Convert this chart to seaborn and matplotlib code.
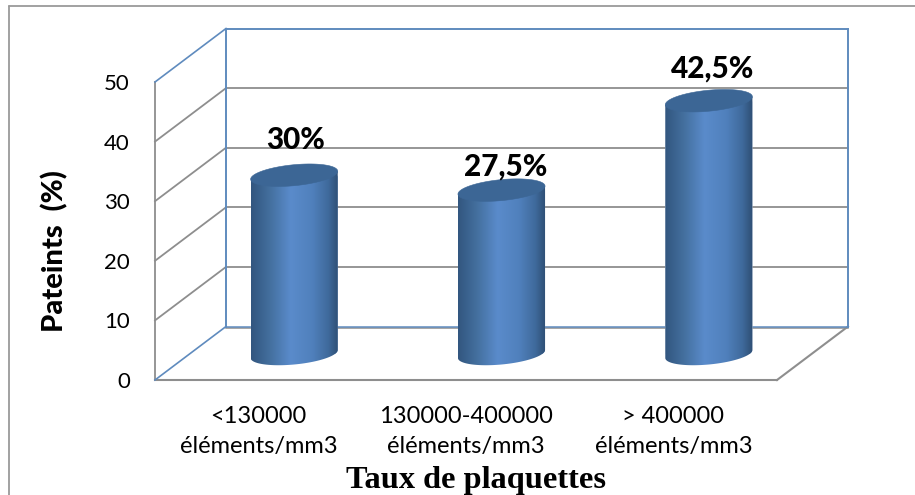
import numpy as np
import matplotlib
matplotlib.use("Agg")
import matplotlib.pyplot as plt
import seaborn as sns
import pandas as pd
from matplotlib.colors import LinearSegmentedColormap
from matplotlib.patches import Polygon
from matplotlib.lines import Line2D

# ---- data ----
categories = ["<130000\néléments/mm3", "130000-400000\néléments/mm3", "> 400000\néléments/mm3"]
values = [30, 27.5, 42.5]
value_labels = ["30%", "27,5%", "42,5%"]
y_ticks = [0, 10, 20, 30, 40, 50]
x_title = "Taux de plaquettes"
y_title = "Pateints  (%)"

# ---- layout (pixels) ----
W, H = 915, 495
FX0, FX1, FY0, FY50 = 155, 777, 380, 82     # front plane
DEPTH_X, DEPTH_Y = 71, 53.5                 # depth of the 3D box
BAR_DX, BAR_DY = 35.5, 26                   # bars stand mid-depth
label_offsets_px = [35, 24, 32]
label_dx_px = [1, 4, 4]
BLUE = "#5F8BBE"
GREY = "#8E8E8E"

sns.set_theme(style="white")
plt.rcParams["font.family"] = ["Lato", "DejaVu Sans"]

fig = plt.figure(figsize=(W / 100, H / 100), dpi=100, facecolor="white")


def rect(x0, x1, y_bottom, y_top):
    return [x0 / W, 1 - y_bottom / H, (x1 - x0) / W, (y_bottom - y_top) / H]


ax = fig.add_axes(rect(FX0, FX1, FY0, FY50), facecolor="none")
ax_bar = fig.add_axes(rect(FX0 + BAR_DX, FX1 + BAR_DX, FY0 - BAR_DY, FY50 - BAR_DY),
                      facecolor="none", zorder=3)

# outer frame, open at right and bottom like the cropped original
fx, fy = 8.5 / W, 1 - 6 / H
fig.add_artist(Line2D([fx, fx], [0, fy], color="#9A9A9A", lw=1.3))
fig.add_artist(Line2D([fx, 1], [fy, fy], color="#9A9A9A", lw=1.3))

# ---- front axes: ticks, labels, 3D box ----
xlim = (-0.5, len(categories) - 0.5)
ylim = (0, 50)
ax.set_xlim(xlim)
ax.set_ylim(ylim)
ax.set_xticks(range(len(categories)), categories)
ax.set_yticks(y_ticks)
ax.tick_params(axis="x", length=0, pad=18.5, labelsize=17, colors="black")
ax.tick_params(axis="y", length=0, pad=18, labelsize=16, colors="black")
for lab in ax.get_xticklabels():
    lab.set_linespacing(1.55)
for s in ax.spines.values():
    s.set_visible(False)

px_x = (xlim[1] - xlim[0]) / (FX1 - FX0)
px_y = (ylim[1] - ylim[0]) / (FY0 - FY50)
dx, dy = DEPTH_X * px_x, DEPTH_Y * px_y


def seg(xs, ys, color, lw=1.3, z=1):
    ax.plot(xs, ys, color=color, lw=lw, clip_on=False, zorder=z, solid_capstyle="projecting")


for v in y_ticks[1:-1]:
    seg([xlim[0], xlim[0] + dx], [v, v + dy], GREY)            # side wall
    seg([xlim[0] + dx, xlim[1] + dx], [v + dy, v + dy], GREY)  # back wall
seg([xlim[0], xlim[0]], [0, 50], GREY, z=2)                    # front vertical
seg([xlim[0], xlim[1]], [0, 0], GREY, lw=1.5, z=2)             # front floor
seg([xlim[1], xlim[1] + dx], [0, dy], GREY, lw=1.5)            # floor right
seg([xlim[0] + dx, xlim[1] + dx], [dy - 0.2, dy - 0.2], GREY, lw=1.1)  # back floor shadow
seg([xlim[0] + dx, xlim[1] + dx], [dy, dy], BLUE, lw=1.1, z=2)
seg([xlim[0] + dx, xlim[0] + dx], [dy, 50 + dy], BLUE, lw=1.4, z=2)
seg([xlim[1] + dx, xlim[1] + dx], [dy, 50 + dy], BLUE, lw=1.4, z=2)
seg([xlim[0] + dx, xlim[1] + dx], [50 + dy, 50 + dy], BLUE, lw=1.4, z=2)
seg([xlim[0], xlim[0] + dx], [50, 50 + dy], BLUE, lw=1.2, z=2)
seg([xlim[0], xlim[0] + dx], [0, dy], BLUE, lw=1.2, z=2)

# ---- cylinders ----
df = pd.DataFrame({"cat": categories, "val": values})
sns.barplot(data=df, x="cat", y="val", ax=ax_bar, width=0.42, color="#4F7DB8",
            saturation=1, errorbar=None, legend=False)
ax_bar.set_axis_off()
ax_bar.set_xlim(xlim)
ax_bar.set_ylim(ylim)

cmap = LinearSegmentedColormap.from_list(
    "cyl", [(0, "#32567F"), (0.22, "#44709F"), (0.45, "#5A8BCB"),
            (0.7, "#5080BC"), (0.88, "#3F6A9C"), (1, "#2E4E73")])
grad = np.linspace(0, 1, 256)[None, :]
B_PX, S_PX = 10.5, 4.0
t_low = np.linspace(np.pi, 2 * np.pi, 80)
t_all = np.linspace(0, 2 * np.pi, 160)

for patch, val, lab, off, ldx in zip(ax_bar.patches, values, value_labels,
                                     label_offsets_px, label_dx_px):
    x0, w = patch.get_x(), patch.get_width()
    cx, a = x0 + w / 2, w / 2
    b, s = B_PX * px_y, S_PX * px_y
    arc_x = cx + a * np.cos(t_low)
    arc_y = b * np.sin(t_low) + s * np.cos(t_low)
    body = np.vstack([np.column_stack([arc_x, arc_y]),
                      [[cx + a, val + s], [cx - a, val - s]]])
    clip = Polygon(body, closed=True, transform=ax_bar.transData, fc="none", ec="none")
    ax_bar.add_patch(clip)
    clip.set_clip_on(False)
    patch.set_clip_path(clip)
    im = ax_bar.imshow(grad, cmap=cmap, aspect="auto", zorder=3,
                       extent=(cx - a, cx + a, -2 * b, val + 2 * s))
    im.set_clip_box(fig.bbox)
    im.set_clip_path(clip)
    top = np.column_stack([cx + a * np.cos(t_all),
                           val + b * np.sin(t_all) + s * np.cos(t_all)])
    ax_bar.add_patch(Polygon(top, closed=True, fc="#3C6695", ec="#3C6695", lw=0.4,
                             zorder=4, clip_on=False))
    ax_bar.annotate(lab, (cx, val), xytext=(ldx * 0.72, off * 0.72),
                    textcoords="offset points", ha="center", va="center",
                    fontsize=21.4, fontweight=900, color="black", zorder=6,
                    annotation_clip=False)

ax_bar.set_xlim(xlim)
ax_bar.set_ylim(ylim)

# ---- titles ----
fig.text(55 / W, 1 - 251 / H, y_title, rotation=90, ha="center", va="center",
         fontsize=21, fontweight=900, color="black")
fig.text(476 / W, 1 - 488 / H, x_title, ha="center", va="baseline", fontsize=23.3,
         fontweight="bold", family="Liberation Serif", color="black")

fig.savefig("out.png", dpi=100, facecolor="white")
